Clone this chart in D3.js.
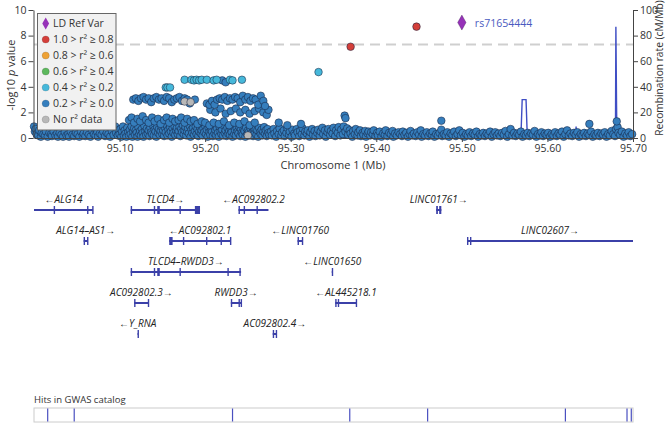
<!DOCTYPE html>
<html><head><meta charset="utf-8">
<script src="https://cdn.jsdelivr.net/npm/d3@7"></script>
<style>body{margin:0;background:#fff}svg{display:block;font-family:"Open Sans",sans-serif}</style>
</head><body><svg id="c" width="671" height="424"></svg>
<script>
// ---------- DATA ----------
const xTicks=[95.10,95.20,95.30,95.40,95.50,95.60,95.70];
const yTicks=[0,2,4,6,8,10];
const recTicks=[0,20,40,60,80,100];
const gwThreshold=7.3;
// association points: [kb offset from 95,000 kb, -log10 p]
const carpetPts=[[0,0.9],[1,0.5],[2,0.7],[3,0.3],[5,0.2],[6,0.6],[8,0.1],[9,0.4],[11,0.3],[13,0.2],[14,0.5],[16,0.1],[18,0.4],[20,0.3],[21,0.15],[23,0.5],[25,0.2],[27,0.35],[28,0.1],[30,0.4],[32,0.25],[34,0.1],[36,0.45],[38,0.2],[40,0.3],[41,0.1],[43,0.5],[45,0.25],[47,0.15],[49,0.4],[51,0.3],[53,0.1],[55,0.5],[57,0.2],[58,0.35],[60,0.15],[62,0.45],[64,0.25],[66,0.1],[68,0.6],[70,0.3],[71,0.8],[72,0.2],[73,0.7],[74,0.45],[75,0.1],[77,0.35],[79,0.25],[81,0.5],[83,0.15],[85,0.4],[87,0.3],[89,0.1],[91,0.55],[93,0.25],[95,0.9],[96,0.4],[98,0.2],[99,0.6],
[100,0.3],[101,0.7],[102,0.1],[103,0.5],[104,0.9],[105,0.2],[106,0.6],[107,0.35],[108,0.1],[109,0.8],[110,0.45],[111,0.2],[112,0.65],[113,0.3],[114,0.9],[115,0.1],[116,0.5],[117,0.75],[118,0.25],[119,0.6],[120,0.4],[121,0.1],[122,0.85],[123,0.3],[124,0.55],[125,0.2],[126,0.7],[127,0.4],[128,0.1],[129,0.95],[130,0.5],[131,0.25],[132,0.75],[133,0.35],[134,0.6],[135,0.15],[136,0.8],[137,0.45],[138,0.3],[139,1.0],[140,0.2],[141,0.65],[142,0.5],[143,0.1],[144,0.85],[145,0.4],[146,0.7],[147,0.25],[148,0.55],[149,0.9],[150,0.3],[151,0.6],[152,0.15],[153,0.8],[154,0.45],[155,1.0],[156,0.2],[157,0.65],[158,0.35],[159,0.85],[160,0.5],[161,0.1],[162,0.75],[163,0.4],[164,0.95],[165,0.25],[166,0.6],[167,0.8],[168,0.3],[169,0.55],[170,0.9],[171,0.15],[172,0.7],[173,0.45],[174,1.0],[175,0.3],[176,0.6],[177,0.85],[178,0.2],[179,0.5],[180,0.75],[181,0.35],[182,0.95],[183,0.1],[184,0.65],[185,0.4],[186,0.8],[187,0.25],[188,0.55],[189,0.9],[190,0.3],[191,0.7],[192,0.15],[193,0.5],[194,0.85],[195,0.35],[196,0.6],[197,0.2],[198,0.75],[199,0.45],[200,0.95],
[201,0.3],[202,0.65],[203,0.1],[204,0.8],[205,0.45],[206,0.25],[207,0.7],[208,0.5],[209,0.15],[210,0.9],[211,0.35],[212,0.6],[213,0.2],[214,0.75],[215,0.4],[216,0.1],[217,0.85],[218,0.5],[219,0.3],[220,0.65],[221,0.2],[222,0.95],[223,0.4],[224,0.6],[225,0.15],[226,0.8],[227,0.35],[228,0.55],[229,0.25],[230,0.7],[231,0.45],[232,0.1],[233,0.9],[234,0.3],[235,0.6],[236,0.2],[237,0.75],[238,0.5],[239,0.35],[240,0.85],[241,0.15],[242,0.65],[243,0.4],[244,0.25],[245,0.7],[246,0.55],[247,0.1],[248,0.8],[249,0.3],[250,0.6],[251,0.45],[252,0.2],[253,0.75],[254,0.35],[255,0.9],[256,0.15],[257,0.55],[258,0.4],[259,0.7],[260,0.25],[261,0.6],[262,0.1],[263,0.8],[264,0.45],[265,0.3],[266,0.65],[267,0.2],[268,0.5],[269,0.85],[270,0.35],[271,0.6],[272,0.15],[273,0.7],[274,0.4],[275,0.25],
[277,0.5],[278,0.2],[280,0.7],[281,0.35],[283,0.1],[284,0.55],[286,0.3],[287,0.75],[289,0.2],[290,0.45],[292,0.6],[293,0.15],[295,0.4],[296,0.8],[298,0.25],[299,0.5],[301,0.1],[302,0.65],[304,0.35],[305,0.2],[307,0.7],[308,0.45],[310,0.15],[311,0.55],[313,0.3],[314,0.75],[316,0.2],[317,0.5],[319,0.35],[320,0.6],[322,0.1],[323,0.45],[325,0.7],[326,0.25],[328,0.55],[329,0.15],[331,0.4],[332,0.65],[334,0.2],[335,0.5],[337,0.8],[338,0.3],[340,0.6],[341,0.1],[343,0.45],[344,0.7],[346,0.25],[347,0.55],[349,0.35],[350,0.8],[352,0.15],[353,0.6],[355,0.4],[356,0.85],[358,0.2],[359,0.65],[361,0.3],[362,0.9],[364,0.5],[366,0.75],[367,0.25],[369,0.6],[370,0.35],[372,0.1],[373,0.55],[375,0.3],[376,0.7],[378,0.2],[379,0.45],[381,0.6],[382,0.15],[384,0.4],[385,0.25],[387,0.55],[388,0.1],[390,0.35],[391,0.5],[393,0.2],[394,0.45],[396,0.3],[397,0.6],[399,0.15],
[401,0.4],[402,0.2],[404,0.5],[406,0.1],[408,0.35],[410,0.25],[411,0.6],[413,0.15],[415,0.4],[417,0.3],[419,0.55],[420,0.1],[422,0.35],[424,0.2],[426,0.45],[428,0.3],[430,0.15],[431,0.5],[433,0.25],[435,0.4],[437,0.1],[439,0.3],[440,0.55],[442,0.2],[444,0.35],[446,0.15],[448,0.45],[450,0.25],[452,0.6],[453,0.1],[455,0.3],[457,0.2],[459,0.45],[461,0.15],[463,0.35],[465,0.25],[466,0.5],[468,0.1],[470,0.3],[472,0.2],[474,0.4],[476,0.65],[477,0.15],[479,0.3],[481,0.2],[483,0.45],[485,0.1],[487,0.35],[489,0.25],[491,0.5],[493,0.15],[495,0.3],[497,0.6],[499,0.2],[501,0.4],[503,0.1],[505,0.3],[507,0.2],[509,0.45],[511,0.15],[513,0.35],[515,0.25],[517,0.5],[519,0.1],[521,0.3],[523,0.2],[525,0.4],[527,0.15],[529,0.35],[531,0.25],[533,0.5],[535,0.1],[537,0.3],[539,0.45],[541,0.2],[543,0.35],[545,0.15],[547,0.4],[549,0.25],[551,0.55],[553,0.1],[555,0.3],[557,0.7],[559,0.2],[561,0.4],[563,0.15],[565,0.35],[567,0.25],[569,0.5],[571,0.1],[573,0.3],[575,0.2],[577,0.4],[579,0.15],[581,0.35],[583,0.25],[585,0.55],[587,0.1],[589,0.3],[591,0.2],[593,0.45],[595,0.15],[597,0.35],[599,0.25],[601,0.4],[603,0.1],[605,0.3],[607,0.2],[609,0.45],[611,0.15],[613,0.35],[615,0.25],[617,0.5],[619,0.1],[621,0.3],[623,0.6],[625,0.2],[627,0.35],[629,0.15],[631,0.4],[633,0.25],[635,0.45],[637,0.1],[639,0.3],[641,0.2],[643,0.4],[645,0.15],[647,0.35],[649,0.25],[651,0.5],[653,0.1],[655,0.3],[657,0.2],[659,0.4],[661,0.15],[663,0.35],[665,0.25],[667,0.45],[669,0.1],[671,0.3],[673,0.2],[675,0.55],[677,0.3],[679,0.15],[680,0.7],[682,0.85],[683,0.4],[685,0.25],[687,0.5],[689,0.1],[691,0.35],[693,0.2],[695,0.45],[697,0.15],[699,0.3]];
const upperPts=[[111,1.4],[114,1.6],[117,1.2],[121,1.5],[124,1.3],[127,1.7],[131,1.4],[134,1.2],[138,1.6],[141,1.3],[145,1.5],[148,1.1],[152,1.4],[155,1.6],[158,1.2],[162,1.5],[165,1.3],[169,1.4],[172,1.6],[176,1.2],[179,1.5],[183,1.3],[187,1.4],[191,1.1],[196,1.3],[200,1.2],[205,1.0],[210,1.2],[216,1.1],[222,1.3],[228,1.0],[234,1.2],[240,1.1],[246,1.3],[252,1.0],[258,1.2],[286,1.2],[296,1.0],[312,1.1],[363,1.75],[364,1.55],[476,1.35],[649,1.1],[681,1.3],
[206,2.2],[212,2.0],[218,2.3],[224,1.9],[230,2.1],[236,2.3],[241,2.0],[247,2.2],[252,1.9],[258,2.1],[263,2.3],[268,2.0],[272,1.8],[274,2.2],
[116,3.0],[119,3.1],[122,2.9],[125,3.1],[128,3.2],[131,3.0],[134,3.1],[137,2.8],[140,3.1],[143,3.2],[146,3.0],[149,3.1],[152,2.9],[155,3.2],[158,3.1],[161,2.8],[164,3.0],[167,3.1],[170,3.2],[173,2.9],[176,3.1],[179,3.0],[182,2.7],[188,3.0],
[202,2.7],[205,2.6],[208,2.9],[211,2.6],[214,3.0],[217,3.1],[220,3.0],[223,3.2],[226,2.9],[229,3.1],[232,3.0],[235,3.2],[238,3.1],[241,2.8],[244,3.3],[247,3.0],[250,3.2],[253,2.9],[256,3.1],[259,3.0],[262,2.6],[265,3.3],[268,2.9],[270,2.5],
[220,4.5],[224,4.35]];
const grayPts=[[120,0.3],[176,2.85],[250,0.2],[183,2.8]];
const lightPts=[[154,3.95],[156,3.95],[159,3.95],[176,4.55],[184,4.55],[187,4.5],[190,4.55],[193,4.5],[196,4.55],[202,4.55],[210,4.5],[213.5,4.55],[229,4.55],[232,4.5],[243,4.55],[332.5,5.15]];
const redPts=[[370,7.13],[447,8.7]];
const refVar={kb:500,logp:9.02,name:"rs71654444"};
// recombination rate (cM/Mb)
const recPos=[95.000,95.060,95.110,95.180,95.250,95.300,95.380,95.450,95.520,95.569,95.5705,95.5750,95.5765,95.600,95.6330,95.6335,95.6340,95.660,95.6795,95.6800,95.6808,95.6812,95.690,95.700];
const recRate=[0.8,1.5,0.5,2,1,0.5,1,0.6,0.4,0.5,30,30,0.6,0.3,0.4,9,0.4,0.5,0.6,87,24,0.8,0.5,0.3];
// genes
const genes=[
 {name:"ALG14",strand:"-",row:0,start:95.000,end:95.069,exons:[[95.023,95.024],[95.062,95.063],[95.068,95.069]]},
 {name:"TLCD4",strand:"+",row:0,start:95.113,end:95.194,exons:[[95.113,95.1135],[95.140,95.141],[95.144,95.147],[95.170,95.171],[95.188,95.194]]},
 {name:"AC092802.2",strand:"-",row:0,start:95.239,end:95.274,exons:[[95.239,95.240],[95.245,95.246],[95.260,95.261]]},
 {name:"LINC01761",strand:"+",row:0,start:95.470,end:95.476,exons:[[95.470,95.472],[95.4735,95.476]]},
 {name:"ALG14–AS1",strand:"+",row:1,start:95.058,end:95.063,exons:[[95.058,95.059],[95.062,95.063]]},
 {name:"AC092802.1",strand:"-",row:1,start:95.158,end:95.230,exons:[[95.158,95.162],[95.174,95.175],[95.201,95.202],[95.218,95.219],[95.229,95.230]]},
 {name:"LINC01760",strand:"-",row:1,start:95.308,end:95.314,exons:[[95.308,95.309],[95.313,95.314]]},
 {name:"LINC02607",strand:"+",row:1,start:95.506,end:95.700,exons:[[95.506,95.507],[95.5095,95.5105]]},
 {name:"TLCD4–RWDD3",strand:"+",row:2,start:95.113,end:95.242,exons:[[95.113,95.1135],[95.140,95.141],[95.144,95.147],[95.170,95.171],[95.226,95.227],[95.240,95.2415]]},
 {name:"LINC01650",strand:"-",row:2,start:95.348,end:95.349,exons:[[95.348,95.349]]},
 {name:"AC092802.3",strand:"+",row:3,start:95.117,end:95.134,exons:[[95.117,95.118],[95.133,95.134]]},
 {name:"RWDD3",strand:"+",row:3,start:95.230,end:95.2425,exons:[[95.230,95.231],[95.239,95.240],[95.2415,95.2425]]},
 {name:"AL445218.1",strand:"-",row:3,start:95.352,end:95.377,exons:[[95.352,95.353],[95.355,95.356],[95.376,95.377]]},
 {name:"Y_RNA",strand:"-",row:4,start:95.121,end:95.1215,exons:[[95.121,95.1215]]},
 {name:"AC092802.4",strand:"+",row:4,start:95.279,end:95.284,exons:[[95.279,95.2805],[95.2825,95.284]]}
];
const gwasHits=[95.016,95.047,95.232,95.369,95.460,95.621,95.693,95.698];
const legendItems=["LD Ref Var","1.0 > r² ≥ 0.8","0.8 > r² ≥ 0.6","0.6 > r² ≥ 0.4","0.4 > r² ≥ 0.2","0.2 > r² ≥ 0.0","No r² data"];
const legendColors=["#9632b8","#d43f3a","#eea236","#5cb85c","#46b8da","#357ebd","#b8b8b8"];

// ---------- DRAW ----------
const svg=d3.select("#c");
const x=d3.scaleLinear().domain([95.0,95.7]).range([34,633]);
const y=d3.scaleLinear().domain([0,10]).range([138,10]);
const yR=d3.scaleLinear().domain([0,100]).range([138,10]);
const mb=kb=>95+kb/1000;
const axisCol="#444", txtCol="#333";

// threshold line
svg.append("line").attr("x1",x(95.0)).attr("x2",x(95.7)).attr("y1",y(gwThreshold)).attr("y2",y(gwThreshold))
  .attr("stroke","#cfcfcf").attr("stroke-width",2).attr("stroke-dasharray","10,6");

// recombination line
svg.append("path").datum(recPos.map((p,i)=>[p,recRate[i]]))
  .attr("d",d3.line().x(d=>x(d[0])).y(d=>yR(d[1])))
  .attr("fill","none").attr("stroke","#3f4ec4").attr("stroke-width",1.4);

function drawPts(arr,color){
  svg.append("g").selectAll("circle").data(arr).join("circle")
    .attr("cx",d=>x(mb(d[0]))).attr("cy",d=>y(d[1])).attr("r",3.8)
    .attr("fill",color).attr("stroke","rgba(20,30,60,0.65)").attr("stroke-width",0.8);
}
drawPts(grayPts.slice(0,1),legendColors[6]);
drawPts(carpetPts,legendColors[5]);
drawPts(upperPts,legendColors[5]);
drawPts(grayPts.slice(1),legendColors[6]);
drawPts(lightPts,legendColors[4]);
drawPts(redPts,legendColors[1]);
const diamond=(cx,cy,w,h)=>`M${cx},${cy-h}L${cx+w},${cy}L${cx},${cy+h}L${cx-w},${cy}Z`;
svg.append("path").attr("d",diamond(x(mb(refVar.kb)),y(refVar.logp),4.2,7.5))
  .attr("fill",legendColors[0]).attr("stroke","rgba(40,10,60,0.5)").attr("stroke-width",0.6);
svg.append("text").attr("x",x(mb(refVar.kb))+13).attr("y",y(refVar.logp)+4)
  .attr("font-size",10.5).attr("fill","#4a5ac0").text(refVar.name);

// axes
function styleAxis(g){
  g.selectAll("path,line").attr("stroke",axisCol);
  g.selectAll("text").attr("fill",txtCol).attr("font-size",10.5).attr("font-family","Open Sans, sans-serif");
}
svg.append("g").attr("transform","translate(0,138)")
  .call(d3.axisBottom(x).tickValues(xTicks).tickFormat(d3.format(".2f")).tickSize(4).tickSizeOuter(0)).call(styleAxis);
svg.append("g").attr("transform","translate(33.5,0)")
  .call(d3.axisLeft(y).tickValues(yTicks).tickSize(5).tickPadding(2).tickSizeOuter(0)).call(styleAxis);
svg.append("g").attr("transform","translate(633,0)")
  .call(d3.axisRight(yR).tickValues(recTicks).tickSize(5).tickPadding(2).tickSizeOuter(0)).call(styleAxis);

// axis titles
svg.append("text").attr("x",333).attr("y",169).attr("text-anchor","middle").attr("font-size",11).attr("fill",txtCol).text("Chromosome 1 (Mb)");
const lt=svg.append("text").attr("transform","translate(15,75) rotate(-90)").attr("text-anchor","middle").attr("font-size",11).attr("fill",txtCol);
lt.append("tspan").text("-log10 ");
lt.append("tspan").attr("font-style","italic").text("p");
lt.append("tspan").text(" value");
svg.append("text").attr("transform","translate(663,68) rotate(-90)").attr("text-anchor","middle").attr("font-size",10.2).attr("fill",txtCol).text("Recombination rate (cM/Mb)");

// legend
const lg=svg.append("g");
lg.append("rect").attr("x",37.5).attr("y",13.5).attr("width",78.5).attr("height",116.5)
  .attr("fill","#f1f1f1").attr("stroke","#666").attr("stroke-width",1);
legendItems.forEach((t,i)=>{
  const cy=23.5+i*16;
  if(i===0) lg.append("path").attr("d",diamond(45.7,cy,3.4,6)).attr("fill",legendColors[0]);
  else lg.append("circle").attr("cx",45.7).attr("cy",cy).attr("r",3.6).attr("fill",legendColors[i]).attr("stroke","rgba(0,0,0,0.25)").attr("stroke-width",0.5);
  lg.append("text").attr("x",53).attr("y",cy+3.8).attr("font-size",10.5).attr("fill",txtCol).text(t);
});

// genes
const rowY=r=>210+r*31;
const geneCol="#3b40a8";
const gg=svg.append("g");
genes.forEach(g=>{
  const s=Math.max(95.0,g.start), e=Math.min(95.7,g.end);
  const yy=rowY(g.row);
  gg.append("line").attr("x1",x(s)).attr("x2",x(e)).attr("y1",yy).attr("y2",yy).attr("stroke",geneCol).attr("stroke-width",2);
  gg.selectAll(null).data(g.exons).join("rect")
    .attr("x",d=>x(d[0])).attr("width",d=>Math.max(1.4,x(d[1])-x(d[0])))
    .attr("y",yy-4).attr("height",8).attr("fill",geneCol);
  const label=g.strand==="+"?g.name+"→":"←"+g.name;
  gg.append("text").attr("x",(x(s)+x(e))/2).attr("y",yy-7.5).attr("text-anchor","middle")
    .attr("font-size",10).attr("font-style","italic").attr("fill","#222").text(label);
});

// GWAS catalog
svg.append("text").attr("x",34).attr("y",403).attr("font-size",9.5).attr("fill",txtCol).text("Hits in GWAS catalog");
svg.append("rect").attr("x",34).attr("y",408).attr("width",599).attr("height",14).attr("fill","#fff").attr("stroke","#cccccc");
svg.append("g").selectAll("line").data(gwasHits).join("line")
  .attr("x1",d=>x(d)).attr("x2",d=>x(d)).attr("y1",408.5).attr("y2",421.5)
  .attr("stroke","#4a50c0").attr("stroke-width",1.2);
</script></body></html>
